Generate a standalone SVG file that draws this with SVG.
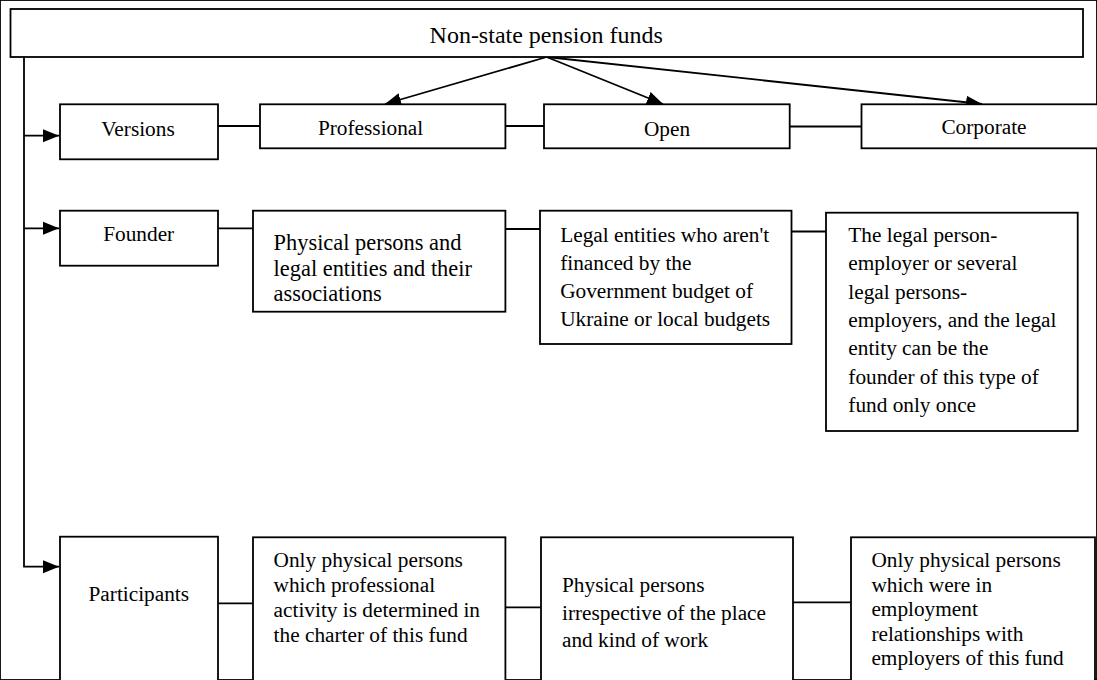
<svg xmlns="http://www.w3.org/2000/svg" width="1097" height="680" viewBox="0 0 1097 680">
<style>
rect{fill:#fff;stroke:#000;stroke-width:1.8}
text{font-family:'Liberation Serif','Times New Roman',serif;font-size:21.3px;fill:#000}
.c{text-anchor:middle}
.t{font-size:24px}
.b{font-size:22.4px}
#connectors line,#connectors polyline{stroke:#000;stroke-width:1.8;fill:none}
</style>
<defs>
<marker id="ah" markerUnits="userSpaceOnUse" markerWidth="16" markerHeight="14" refX="16" refY="7" orient="auto">
<path d="M0,0.5 L16,7 L0,13.5 z" fill="#000"/>
</marker>
</defs>
<rect fill="#fff" stroke="none" x="0" y="0" width="1097" height="680"/>
<g id="connectors">
<polyline points="24,57 24,566.7 59,566.7" marker-end="url(#ah)"/>
<line x1="24" y1="135.7" x2="59" y2="135.7" marker-end="url(#ah)"/>
<line x1="24" y1="228.3" x2="59" y2="228.3" marker-end="url(#ah)"/>
<line x1="546.7" y1="57" x2="385" y2="104" marker-end="url(#ah)"/>
<line x1="546.7" y1="57" x2="663" y2="104" marker-end="url(#ah)"/>
<line x1="546.7" y1="57" x2="982" y2="104" marker-end="url(#ah)"/>
<line x1="218" y1="126" x2="260" y2="126"/>
<line x1="505" y1="126" x2="544" y2="126"/>
<line x1="790" y1="126.5" x2="861" y2="126.5"/>
<line x1="218" y1="228.3" x2="253" y2="228.3"/>
<line x1="505" y1="229" x2="540" y2="229"/>
<line x1="791" y1="231.5" x2="831" y2="231.5"/>
<line x1="218" y1="603.3" x2="256" y2="603.3"/>
<line x1="505" y1="607.3" x2="544" y2="607.3"/>
<line x1="793" y1="602.3" x2="851" y2="602.3"/>
</g>
<g id="root">
<rect x="10.5" y="9" width="1072.5" height="48"/>
<text class="c t" x="546.2" y="42.7">Non-state pension funds</text>
</g>
<g id="versions">
<rect x="60" y="104.3" width="158" height="55"/>
<text class="c" x="138" y="136">Versions</text>
</g>
<g id="professional">
<rect x="260" y="104.3" width="245.4" height="44"/>
<text class="c" x="370.6" y="134.5">Professional</text>
</g>
<g id="open">
<rect x="544" y="104.3" width="245.7" height="44"/>
<text class="c" x="667" y="135.5">Open</text>
</g>
<g id="corporate">
<rect x="861.5" y="104.3" width="240" height="44"/>
<text class="c" x="984" y="134.3">Corporate</text>
</g>
<g id="founder">
<rect x="60" y="210.7" width="158" height="55"/>
<text class="c" x="138.7" y="241">Founder</text>
</g>
<g id="founder-professional">
<rect x="253" y="210.7" width="252.4" height="101"/>
<text class="b" x="273.6" y="250">Physical persons and</text>
<text class="b" x="273.6" y="275.5">legal entities and their</text>
<text class="b" x="273.6" y="301">associations</text>
</g>
<g id="founder-open">
<rect x="540" y="210.7" width="251.5" height="133.3"/>
<text x="560.2" y="242">Legal entities who aren't</text>
<text x="560.2" y="270">financed by the</text>
<text x="560.2" y="298">Government budget of</text>
<text x="560.2" y="326">Ukraine or local budgets</text>
</g>
<g id="founder-corporate">
<rect x="826" y="212.7" width="251.7" height="218.3"/>
<text x="848.3" y="242">The legal person-</text>
<text x="848.3" y="270.3">employer or several</text>
<text x="848.3" y="298.6">legal persons-</text>
<text x="848.3" y="326.9">employers, and the legal</text>
<text x="848.3" y="355.2">entity can be the</text>
<text x="848.3" y="383.5">founder of this type of</text>
<text x="848.3" y="411.8">fund only once</text>
</g>
<g id="participants">
<rect x="60" y="536.7" width="158" height="160"/>
<text class="c" x="138.8" y="601">Participants</text>
</g>
<g id="participants-professional">
<rect x="253" y="537.3" width="252.4" height="160"/>
<text x="273.6" y="567">Only physical persons</text>
<text x="273.6" y="592">which professional</text>
<text x="273.6" y="617">activity is determined in</text>
<text x="273.6" y="642">the charter of this fund</text>
</g>
<g id="participants-open">
<rect x="541" y="537.3" width="252" height="160"/>
<text x="562" y="592">Physical persons</text>
<text x="562" y="619.5">irrespective of the place</text>
<text x="562" y="647">and kind of work</text>
</g>
<g id="participants-corporate">
<rect x="851" y="537.3" width="244" height="160"/>
<text x="871.4" y="567">Only physical persons</text>
<text x="871.4" y="591.5">which were in</text>
<text x="871.4" y="616">employment</text>
<text x="871.4" y="640.5">relationships with</text>
<text x="871.4" y="665">employers of this fund</text>
</g>
</svg>
